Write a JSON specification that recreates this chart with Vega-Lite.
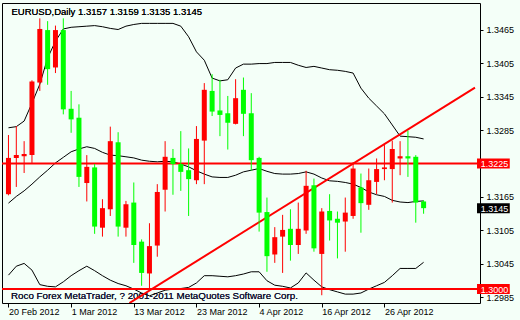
{
  "$schema": "https://vega.github.io/schema/vega-lite/v6.json",
  "width": 478,
  "height": 300,
  "autosize": {"type": "none"},
  "padding": {"left": 2, "top": 3, "right": 40, "bottom": 17},
  "background": "#F4FFF8",
  "config": {
    "view": {"stroke": "#000000", "strokeWidth": 1, "fill": "#F4FFF8"},
    "font": "Liberation Sans",
    "axis": {"labelFont": "Liberation Sans", "labelFontSize": 9, "labelColor": "#000000", "tickColor": "#000000", "domain": false, "grid": false, "title": null}
  },
  "datasets": {
    "candles": [
      {"d": "2012-02-20", "i": 0, "o": 1.3170, "h": 1.3276, "l": 1.3168, "c": 1.3235, "ub": 1.3289, "mb": 1.3154, "lb": 1.3025},
      {"d": "2012-02-21", "i": 1, "o": 1.3235, "h": 1.3292, "l": 1.3183, "c": 1.3240, "ub": 1.3291, "mb": 1.3166, "lb": 1.3041},
      {"d": "2012-02-22", "i": 2, "o": 1.3238, "h": 1.3265, "l": 1.3208, "c": 1.3242, "ub": 1.3301, "mb": 1.3176, "lb": 1.3046},
      {"d": "2012-02-23", "i": 3, "o": 1.3240, "h": 1.3374, "l": 1.3226, "c": 1.3372, "ub": 1.3333, "mb": 1.3188, "lb": 1.3034},
      {"d": "2012-02-24", "i": 4, "o": 1.3370, "h": 1.3485, "l": 1.3355, "c": 1.3466, "ub": 1.3367, "mb": 1.3201, "lb": 1.3008},
      {"d": "2012-02-27", "i": 5, "o": 1.3464, "h": 1.3480, "l": 1.3366, "c": 1.3394, "ub": 1.3414, "mb": 1.3213, "lb": 1.3005},
      {"d": "2012-02-28", "i": 6, "o": 1.3397, "h": 1.3472, "l": 1.3387, "c": 1.3464, "ub": 1.3444, "mb": 1.3226, "lb": 1.3004},
      {"d": "2012-02-29", "i": 7, "o": 1.3464, "h": 1.3485, "l": 1.3313, "c": 1.3322, "ub": 1.3466, "mb": 1.3236, "lb": 1.3013},
      {"d": "2012-03-01", "i": 8, "o": 1.3323, "h": 1.3355, "l": 1.3280, "c": 1.3304, "ub": 1.3469, "mb": 1.3246, "lb": 1.3024},
      {"d": "2012-03-02", "i": 9, "o": 1.3307, "h": 1.3331, "l": 1.3183, "c": 1.3201, "ub": 1.3470, "mb": 1.3251, "lb": 1.3033},
      {"d": "2012-03-05", "i": 10, "o": 1.3190, "h": 1.3240, "l": 1.3157, "c": 1.3219, "ub": 1.3471, "mb": 1.3255, "lb": 1.3041},
      {"d": "2012-03-06", "i": 11, "o": 1.3218, "h": 1.3224, "l": 1.3099, "c": 1.3112, "ub": 1.3472, "mb": 1.3252, "lb": 1.3033},
      {"d": "2012-03-07", "i": 12, "o": 1.3110, "h": 1.3161, "l": 1.3094, "c": 1.3145, "ub": 1.3470, "mb": 1.3245, "lb": 1.3024},
      {"d": "2012-03-08", "i": 13, "o": 1.3143, "h": 1.3291, "l": 1.3131, "c": 1.3265, "ub": 1.3467, "mb": 1.3240, "lb": 1.3016},
      {"d": "2012-03-09", "i": 14, "o": 1.3263, "h": 1.3281, "l": 1.3094, "c": 1.3112, "ub": 1.3465, "mb": 1.3239, "lb": 1.3010},
      {"d": "2012-03-12", "i": 15, "o": 1.3110, "h": 1.3158, "l": 1.3094, "c": 1.3152, "ub": 1.3471, "mb": 1.3237, "lb": 1.3006},
      {"d": "2012-03-13", "i": 16, "o": 1.3155, "h": 1.3191, "l": 1.3047, "c": 1.3079, "ub": 1.3474, "mb": 1.3235, "lb": 1.3000},
      {"d": "2012-03-14", "i": 17, "o": 1.3085, "h": 1.3089, "l": 1.3006, "c": 1.3029, "ub": 1.3476, "mb": 1.3231, "lb": 1.2993},
      {"d": "2012-03-15", "i": 18, "o": 1.3028, "h": 1.3118, "l": 1.2998, "c": 1.3077, "ub": 1.3476, "mb": 1.3229, "lb": 1.2988},
      {"d": "2012-03-16", "i": 19, "o": 1.3078, "h": 1.3188, "l": 1.3058, "c": 1.3174, "ub": 1.3476, "mb": 1.3228, "lb": 1.2993},
      {"d": "2012-03-19", "i": 20, "o": 1.3178, "h": 1.3265, "l": 1.3139, "c": 1.3237, "ub": 1.3476, "mb": 1.3229, "lb": 1.2998},
      {"d": "2012-03-20", "i": 21, "o": 1.3235, "h": 1.3251, "l": 1.3169, "c": 1.3224, "ub": 1.3476, "mb": 1.3228, "lb": 1.3000},
      {"d": "2012-03-21", "i": 22, "o": 1.3224, "h": 1.3283, "l": 1.3176, "c": 1.3210, "ub": 1.3471, "mb": 1.3224, "lb": 1.3001},
      {"d": "2012-03-22", "i": 23, "o": 1.3213, "h": 1.3252, "l": 1.3131, "c": 1.3197, "ub": 1.3452, "mb": 1.3219, "lb": 1.3003},
      {"d": "2012-03-23", "i": 24, "o": 1.3195, "h": 1.3292, "l": 1.3188, "c": 1.3269, "ub": 1.3425, "mb": 1.3212, "lb": 1.3011},
      {"d": "2012-03-26", "i": 25, "o": 1.3266, "h": 1.3369, "l": 1.3188, "c": 1.3357, "ub": 1.3410, "mb": 1.3206, "lb": 1.3024},
      {"d": "2012-03-27", "i": 26, "o": 1.3355, "h": 1.3385, "l": 1.3310, "c": 1.3318, "ub": 1.3378, "mb": 1.3201, "lb": 1.3024},
      {"d": "2012-03-28", "i": 27, "o": 1.3320, "h": 1.3375, "l": 1.3274, "c": 1.3312, "ub": 1.3373, "mb": 1.3200, "lb": 1.3023},
      {"d": "2012-03-29", "i": 28, "o": 1.3315, "h": 1.3346, "l": 1.3250, "c": 1.3298, "ub": 1.3375, "mb": 1.3200, "lb": 1.3022},
      {"d": "2012-03-30", "i": 29, "o": 1.3296, "h": 1.3376, "l": 1.3295, "c": 1.3342, "ub": 1.3396, "mb": 1.3204, "lb": 1.3024},
      {"d": "2012-04-02", "i": 30, "o": 1.3357, "h": 1.3379, "l": 1.3274, "c": 1.3314, "ub": 1.3403, "mb": 1.3210, "lb": 1.3027},
      {"d": "2012-04-03", "i": 31, "o": 1.3315, "h": 1.3351, "l": 1.3212, "c": 1.3231, "ub": 1.3403, "mb": 1.3213, "lb": 1.3031},
      {"d": "2012-04-04", "i": 32, "o": 1.3235, "h": 1.3237, "l": 1.3103, "c": 1.3137, "ub": 1.3404, "mb": 1.3216, "lb": 1.3031},
      {"d": "2012-04-05", "i": 33, "o": 1.3138, "h": 1.3164, "l": 1.3031, "c": 1.3059, "ub": 1.3404, "mb": 1.3211, "lb": 1.3015},
      {"d": "2012-04-06", "i": 34, "o": 1.3062, "h": 1.3111, "l": 1.3047, "c": 1.3093, "ub": 1.3406, "mb": 1.3207, "lb": 1.3007},
      {"d": "2012-04-09", "i": 35, "o": 1.3094, "h": 1.3133, "l": 1.3029, "c": 1.3106, "ub": 1.3406, "mb": 1.3206, "lb": 1.3005},
      {"d": "2012-04-10", "i": 36, "o": 1.3108, "h": 1.3143, "l": 1.3051, "c": 1.3079, "ub": 1.3406, "mb": 1.3206, "lb": 1.3002},
      {"d": "2012-04-11", "i": 37, "o": 1.3079, "h": 1.3155, "l": 1.3063, "c": 1.3108, "ub": 1.3401, "mb": 1.3207, "lb": 1.3011},
      {"d": "2012-04-12", "i": 38, "o": 1.3105, "h": 1.3212, "l": 1.3099, "c": 1.3185, "ub": 1.3397, "mb": 1.3210, "lb": 1.3029},
      {"d": "2012-04-13", "i": 39, "o": 1.3186, "h": 1.3198, "l": 1.3067, "c": 1.3073, "ub": 1.3399, "mb": 1.3206, "lb": 1.3016},
      {"d": "2012-04-16", "i": 40, "o": 1.3063, "h": 1.3145, "l": 1.2989, "c": 1.3139, "ub": 1.3396, "mb": 1.3199, "lb": 1.3004},
      {"d": "2012-04-17", "i": 41, "o": 1.3140, "h": 1.3170, "l": 1.3087, "c": 1.3123, "ub": 1.3393, "mb": 1.3194, "lb": 1.2999},
      {"d": "2012-04-18", "i": 42, "o": 1.3126, "h": 1.3139, "l": 1.3055, "c": 1.3119, "ub": 1.3392, "mb": 1.3193, "lb": 1.2995},
      {"d": "2012-04-19", "i": 43, "o": 1.3121, "h": 1.3164, "l": 1.3067, "c": 1.3137, "ub": 1.3390, "mb": 1.3191, "lb": 1.2991},
      {"d": "2012-04-20", "i": 44, "o": 1.3131, "h": 1.3227, "l": 1.3126, "c": 1.3216, "ub": 1.3387, "mb": 1.3188, "lb": 1.2991},
      {"d": "2012-04-23", "i": 45, "o": 1.3182, "h": 1.3207, "l": 1.3101, "c": 1.3154, "ub": 1.3360, "mb": 1.3182, "lb": 1.2993},
      {"d": "2012-04-24", "i": 46, "o": 1.3151, "h": 1.3216, "l": 1.3142, "c": 1.3195, "ub": 1.3342, "mb": 1.3174, "lb": 1.3000},
      {"d": "2012-04-25", "i": 47, "o": 1.3192, "h": 1.3234, "l": 1.3170, "c": 1.3215, "ub": 1.3328, "mb": 1.3169, "lb": 1.3006},
      {"d": "2012-04-26", "i": 48, "o": 1.3215, "h": 1.3258, "l": 1.3195, "c": 1.3218, "ub": 1.3314, "mb": 1.3166, "lb": 1.3012},
      {"d": "2012-04-27", "i": 49, "o": 1.3215, "h": 1.3266, "l": 1.3155, "c": 1.3251, "ub": 1.3294, "mb": 1.3159, "lb": 1.3024},
      {"d": "2012-04-30", "i": 50, "o": 1.3234, "h": 1.3265, "l": 1.3204, "c": 1.3238, "ub": 1.3274, "mb": 1.3156, "lb": 1.3037},
      {"d": "2012-05-01", "i": 51, "o": 1.3238, "h": 1.3284, "l": 1.3201, "c": 1.3234, "ub": 1.3273, "mb": 1.3155, "lb": 1.3037},
      {"d": "2012-05-02", "i": 52, "o": 1.3237, "h": 1.3240, "l": 1.3119, "c": 1.3155, "ub": 1.3272, "mb": 1.3157, "lb": 1.3037},
      {"d": "2012-05-03", "i": 53, "o": 1.3157, "h": 1.3159, "l": 1.3135, "c": 1.3145, "ub": 1.3269, "mb": 1.3158, "lb": 1.3048}
    ],
    "trend": [{"i": 15.44, "p": 1.2975}, {"i": 59.5625, "p": 1.3361}],
    "levels": [{"p": 1.3225}, {"p": 1.3}]
  },
  "layer": [
    {
      "data": {"name": "levels"},
      "mark": {"type": "text", "text": "Roco Forex MetaTrader, ? 2001-2011 MetaQuotes Software Corp.", "align": "left", "baseline": "alphabetic", "fontSize": 9.8, "color": "#101030", "font": "Liberation Sans"},
      "encoding": {
        "x": {"datum": 0.32, "type": "quantitative", "scale": {"domain": [-0.1875, 59.5625], "nice": false, "zero": false},
          "axis": {"orient": "bottom", "values": [0, 8, 16, 24, 32, 40, 48],
            "labelExpr": "['20 Feb 2012','1 Mar 2012','13 Mar 2012','23 Mar 2012','4 Apr 2012','16 Apr 2012','26 Apr 2012'][round(datum.value/8)]",
            "labelAlign": "left", "labelBaseline": "top", "tickSize": 4, "labelPadding": 0, "labelFlush": false, "labelOverlap": false}},
        "y": {"datum": 1.2983, "type": "quantitative", "scale": {"domain": [1.29751, 1.35125], "nice": false, "zero": false},
          "axis": {"orient": "right", "values": [1.2985, 1.3045, 1.3105, 1.3165, 1.3285, 1.3345, 1.3405, 1.3465], "format": ".4f", "tickSize": 3, "labelPadding": 3}}
      }
    },
    {
      "data": {"name": "levels"},
      "mark": {"type": "text", "text": "EURUSD,Daily  1.3157 1.3159 1.3135 1.3145", "align": "left", "baseline": "alphabetic", "fontSize": 9.5, "color": "#000000", "font": "Liberation Sans"},
      "encoding": {
        "x": {"datum": 0.38, "type": "quantitative"},
        "y": {"datum": 1.3491, "type": "quantitative"}
      }
    },
    {
      "data": {"name": "candles"},
      "mark": {"type": "line", "color": "#000000", "strokeWidth": 1, "clip": true, "interpolate": "linear"},
      "encoding": {"x": {"field": "i", "type": "quantitative"}, "y": {"field": "ub", "type": "quantitative"}}
    },
    {
      "data": {"name": "candles"},
      "mark": {"type": "line", "color": "#000000", "strokeWidth": 1, "clip": true},
      "encoding": {"x": {"field": "i", "type": "quantitative"}, "y": {"field": "mb", "type": "quantitative"}}
    },
    {
      "data": {"name": "candles"},
      "mark": {"type": "line", "color": "#000000", "strokeWidth": 1, "clip": true},
      "encoding": {"x": {"field": "i", "type": "quantitative"}, "y": {"field": "lb", "type": "quantitative"}}
    },
    {
      "data": {"name": "levels"},
      "mark": {"type": "rule", "color": "#FF0000", "strokeWidth": 2},
      "encoding": {"y": {"field": "p", "type": "quantitative"}}
    },
    {
      "data": {"name": "trend"},
      "mark": {"type": "line", "color": "#FF0000", "strokeWidth": 2, "clip": true},
      "encoding": {"x": {"field": "i", "type": "quantitative"}, "y": {"field": "p", "type": "quantitative"}}
    },
    {
      "data": {"name": "candles"},
      "mark": {"type": "rule", "strokeWidth": 1, "clip": true},
      "encoding": {
        "x": {"field": "i", "type": "quantitative"},
        "y": {"field": "l", "type": "quantitative"},
        "y2": {"field": "h"},
        "color": {"condition": {"test": "datum.c > datum.o", "value": "#FF0000"}, "value": "#00FF00"}
      }
    },
    {
      "data": {"name": "candles"},
      "mark": {"type": "bar", "size": 5, "clip": true},
      "encoding": {
        "x": {"field": "i", "type": "quantitative"},
        "y": {"field": "o", "type": "quantitative"},
        "y2": {"field": "c"},
        "color": {"condition": {"test": "datum.c > datum.o", "value": "#FF0000"}, "value": "#00FF00"}
      }
    },
    {
      "data": {"values": [{"lab": "1.3225", "p": 1.3225, "bg": "#FF0000"}, {"lab": "1.3000", "p": 1.3, "bg": "#FF0000"}, {"lab": "1.3145", "p": 1.3145, "bg": "#000000"}]},
      "layer": [
        {
          "mark": {"type": "rule", "strokeWidth": 10},
          "encoding": {
            "x": {"datum": 59.82, "type": "quantitative"},
            "x2": {"datum": 64.0},
            "y": {"field": "p", "type": "quantitative"},
            "color": {"field": "bg", "type": "nominal", "scale": null}
          }
        },
        {
          "mark": {"type": "text", "align": "left", "baseline": "middle", "fontSize": 9, "color": "#FFFFFF", "font": "Liberation Sans", "dy": 0.5},
          "encoding": {
            "x": {"datum": 60.3, "type": "quantitative"},
            "y": {"field": "p", "type": "quantitative"},
            "text": {"field": "lab"}
          }
        }
      ]
    }
  ]
}
